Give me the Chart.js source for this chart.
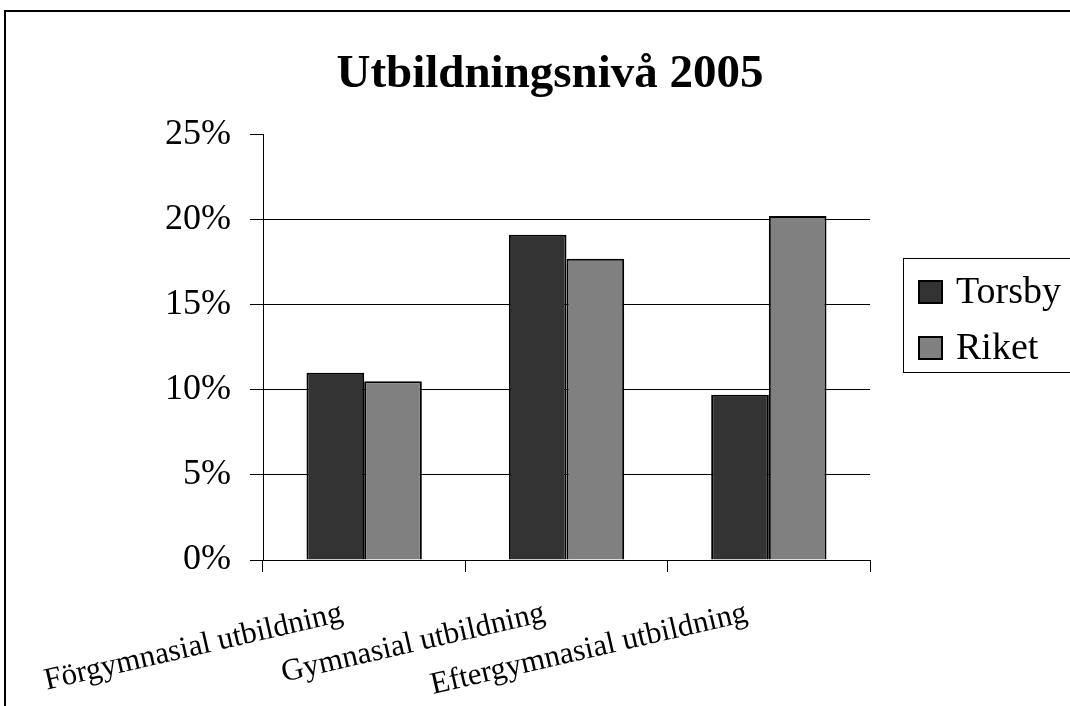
<!DOCTYPE html>
<html lang="sv">
<head>
<meta charset="utf-8">
<title>Utbildningsnivå 2005</title>
<script src="https://cdn.jsdelivr.net/npm/chart.js@4/dist/chart.umd.min.js"></script>
<style>
  html, body { margin: 0; padding: 0; background: #fff; overflow: hidden; }
  #wrap { width: 1070px; height: 706px; overflow: hidden; }
  canvas { display: block; }
</style>
</head>
<body>
<div id="wrap"><canvas id="chart" width="1100" height="740"></canvas></div>
<script>
// Data
const kategorier = ["Förgymnasial utbildning", "Gymnasial utbildning", "Eftergymnasial utbildning"];
const serieNamn = ["Torsby", "Riket"];
const torsby = [11.0, 19.1, 9.7];
const riket = [10.5, 17.7, 20.2];
const yTicks = [0, 5, 10, 15, 20, 25];

const SERIF = "'Liberation Serif', 'Times New Roman', serif";

// Ram runt hela diagrammet (beskärs till höger och nedtill)
const ramPlugin = {
  id: "ram",
  beforeDraw(chart) {
    const c = chart.ctx;
    c.save();
    c.fillStyle = "#fff";
    c.fillRect(0, 0, chart.width, chart.height);
    c.strokeStyle = "#000";
    c.lineWidth = 2;
    c.strokeRect(5, 11, chart.width + 20, chart.height + 20);
    c.restore();
  }
};

// Förklaring med ram, byggd från dataseten
const legendPlugin = {
  id: "egenLegend",
  afterDraw(chart) {
    const c = chart.ctx;
    const x0 = 903.5, y0 = 258.5;
    c.save();
    c.strokeStyle = "#000";
    c.lineWidth = 1;
    c.strokeRect(x0, y0, 200, 114);
    c.font = "38px " + SERIF;
    c.textBaseline = "middle";
    c.textAlign = "left";
    chart.data.datasets.forEach((ds, i) => {
      const y = 281 + i * 56;
      c.fillStyle = ds.backgroundColor;
      c.fillRect(919, y, 23, 22);
      c.strokeStyle = "#000";
      c.lineWidth = 2;
      c.strokeRect(919, y, 23, 22);
      c.fillStyle = "#000";
      c.fillText(ds.label, 956, y + 12);
    });
    c.restore();
  }
};

const ctx = document.getElementById("chart");
new Chart(ctx, {
  type: "bar",
  data: {
    labels: kategorier,
    datasets: [
      { label: serieNamn[0], data: torsby, backgroundColor: "#333333", borderColor: "#000", borderWidth: 2 },
      { label: serieNamn[1], data: riket, backgroundColor: "#808080", borderColor: "#000", borderWidth: 2 }
    ]
  },
  options: {
    responsive: false,
    animation: false,
    devicePixelRatio: 1,
    categoryPercentage: 0.57,
    barPercentage: 1.0,
    layout: { padding: 0 },
    plugins: {
      legend: { display: false },
      tooltip: { enabled: false },
      title: {
        display: true,
        text: "Utbildningsnivå 2005",
        color: "#000",
        font: { family: SERIF, size: 47, weight: "bold" },
        padding: { top: 47, bottom: 31 }
      }
    },
    scales: {
      x: {
        grid: {
          display: true,
          drawOnChartArea: false,
          drawTicks: true,
          tickLength: 12,
          tickColor: "#000",
          offset: true
        },
        border: { display: true, color: "#000", width: 1 },
        ticks: {
          autoSkip: false,
          minRotation: 13,
          maxRotation: 13,
          padding: 23,
          labelOffset: -22,
          color: "#000",
          font: { family: SERIF, size: 31 }
        },
        afterFit(scale) {
          scale.height = 180;
          scale.paddingLeft = 0;
          scale.paddingRight = 0;
        }
      },
      y: {
        min: yTicks[0],
        max: yTicks[yTicks.length - 1],
        afterBuildTicks(scale) { scale.ticks = yTicks.map(v => ({ value: v })); },
        grid: {
          color: c => (c.tick && c.tick.value === 25) ? "rgba(0,0,0,0)" : "#000",
          tickColor: "#000",
          tickLength: 13,
          lineWidth: 1
        },
        border: { display: true, color: "#000", width: 1 },
        ticks: {
          padding: 19,
          color: "#000",
          font: { family: SERIF, size: 36 },
          callback: v => v + "%"
        },
        afterFit(scale) { scale.width = 263; }
      },
      // tom yta till höger om ritytan, där förklaringen står
      hoger: {
        type: "linear",
        position: "right",
        display: true,
        grid: { display: false },
        border: { display: false },
        ticks: { display: false },
        afterFit(scale) { scale.width = 230; }
      }
    }
  },
  plugins: [ramPlugin, legendPlugin]
});
</script>
</body>
</html>
